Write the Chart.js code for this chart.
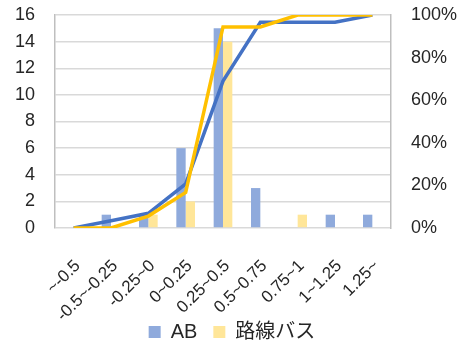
<!DOCTYPE html>
<html>
<head>
<meta charset="utf-8">
<script src="https://cdn.jsdelivr.net/npm/chart.js@4"></script>
<style>
  body { margin: 0; background: #fff; }
  #wrap { width: 464px; height: 340px; }
</style>
</head>
<body>
<div id="wrap"><canvas id="graf"></canvas></div>
<script>
// 区間ラベル
const labels = ['~-0.5', '-0.5~-0.25', '-0.25~0', '0~0.25', '0.25~0.5', '0.5~0.75', '0.75~1', '1~1.25', '1.25~'];
// 度数
const abCount = [0, 1, 1, 6, 15, 3, 0, 1, 1];
const busCount = [0, 0, 1, 2, 14, 0, 1, 0, 0];
// 累積 (%)
const abCum = [0, 3.4, 6.9, 20.7, 69.0, 96.6, 96.6, 96.6, 100];
const busCum = [0, 0, 5.6, 16.7, 94.4, 94.4, 100, 100, 100];

const fam = "'Liberation Sans', 'Noto Sans CJK JP', sans-serif";
Chart.defaults.font.family = fam;
Chart.defaults.font.size = 18;
Chart.defaults.color = '#262626';

new Chart(document.querySelector('#graf'), {
  data: {
    labels,
    datasets: [
      { type: 'line', label: 'AB累積', data: abCum, yAxisID: 'y2', borderColor: '#4472C4', borderWidth: 3.5, pointRadius: 0, tension: 0, order: 1 },
      { type: 'line', label: '路線バス累積', data: busCum, yAxisID: 'y2', borderColor: '#FFC000', borderWidth: 3.5, pointRadius: 0, tension: 0, order: 0 },
      { type: 'bar', label: 'AB', data: abCount, yAxisID: 'y', backgroundColor: '#8FAADC', categoryPercentage: 0.5, barPercentage: 1, order: 2 },
      { type: 'bar', label: '路線バス', data: busCount, yAxisID: 'y', backgroundColor: '#FFE699', categoryPercentage: 0.5, barPercentage: 1, order: 2 }
    ]
  },
  options: {
    responsive: true,
    maintainAspectRatio: false,
    animation: false,
    layout: { padding: { top: 15, left: 0, right: 0, bottom: -12 } },
    plugins: {
      tooltip: { enabled: false },
      legend: {
        position: 'bottom',
        labels: {
          boxWidth: 12, boxHeight: 12, padding: 16,
          font: { family: fam, size: 20 },
          filter: item => item.text === 'AB' || item.text === '路線バス'
        }
      }
    },
    scales: {
      x: {
        grid: { display: false },
        border: { display: false },
        ticks: { minRotation: 45, maxRotation: 45, padding: 20, labelOffset: 4, font: { size: 17 } },
        afterFit: s => {
          s.height = 78;
          // ラベルが凡例の領域まではみ出すので切り取りをやめる
          s._computeLabelArea = () => undefined;
        }
      },
      y: {
        position: 'left',
        min: 0, max: 16,
        ticks: { stepSize: 2, padding: 0, autoSkip: false },
        grid: { color: '#d9d9d9', lineWidth: 1.5, drawTicks: true, tickLength: 20, tickColor: 'rgba(0,0,0,0)' },
        border: { color: '#bfbfbf', width: 1.5 },
        afterFit: s => { s.width = 55; }
      },
      y2: {
        position: 'right',
        min: 0, max: 100,
        ticks: { stepSize: 20, padding: 0, autoSkip: false, callback: v => v + '%' },
        grid: { display: false, drawTicks: true, tickLength: 20 },
        border: { color: '#bfbfbf', width: 1.5 },
        afterFit: s => { s.width = 73; }
      }
    }
  }
});
</script>
</body>
</html>
